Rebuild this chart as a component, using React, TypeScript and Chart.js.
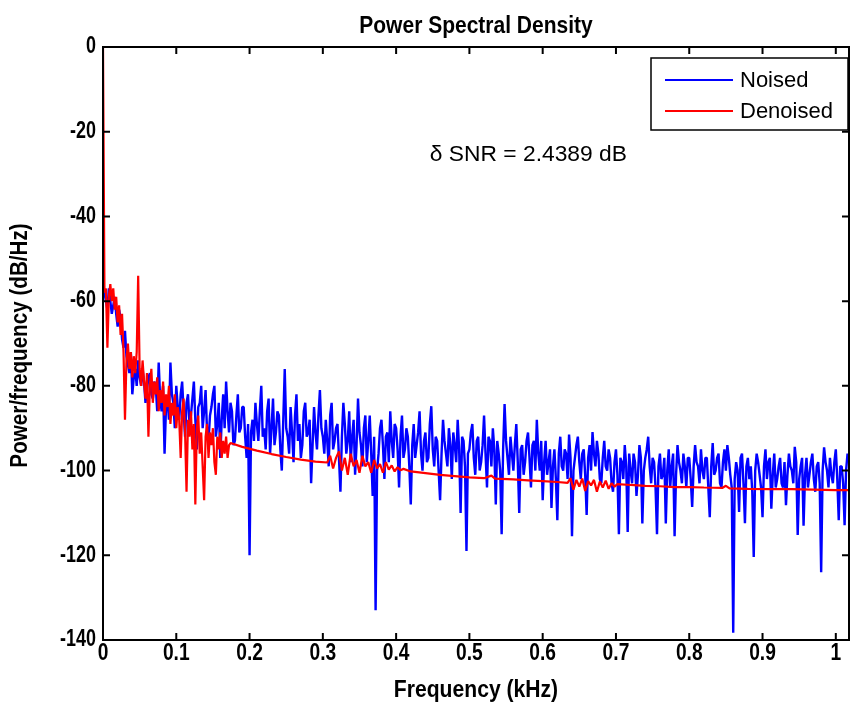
import React, { useEffect, useRef } from "react";
import { Chart, registerables } from "chart.js";

Chart.register(...registerables);

const TITLE = "Power Spectral Density";
const X_LABEL = "Frequency (kHz)";
const Y_LABEL = "Power/frequency (dB/Hz)";
const ANNOTATION = "\u03B4 SNR = 2.4389 dB";
const ANNOTATION_AT = { x: 0.446, y: -25.5 };
const SERIES_NAMES = ["Noised", "Denoised"];
const SERIES_COLORS = ["#0000ff", "#ff0000"];

const X_TICKS = [0, 0.1, 0.2, 0.3, 0.4, 0.5, 0.6, 0.7, 0.8, 0.9, 1];
const Y_TICKS = [-140, -120, -100, -80, -60, -40, -20, 0];
const X_MAX = 1.018;

// Noised PSD: one value per frequency bin (bin spacing in kHz)
const NOISED_STEP = 0.002;
const NOISED_DB = [
  -57, -58, -60, -62, -57, -60, -63, -61, -59, -63,
  -66, -62, -64, -69, -71, -67, -73, -75, -77, -72,
  -82, -78, -76, -80, -74, -78, -80, -76, -79, -84,
  -81, -78, -77, -82, -83, -79, -80, -86, -74.5, -83,
  -86, -80, -96, -85, -83, -88, -74.5, -82, -84, -90,
  -80, -85, -88, -82, -79, -86, -92, -84, -82, -89,
  -87, -83, -79, -88, -95, -85, -84, -80, -90, -86,
  -81, -91, -93, -87, -85, -82, -80, -92, -89, -84,
  -97, -88, -82, -90, -79, -86, -91, -84, -86, -94,
  -93, -87, -82, -91, -90, -85, -85, -92, -97, -89,
  -120, -91, -88, -93, -84, -89, -93, -86, -80, -92,
  -90, -95, -86, -83, -96, -90, -83, -94, -91, -86,
  -87, -95, -100, -88, -76, -90, -92, -96, -85, -91,
  -98, -87, -82, -93, -89, -97, -94, -86, -84, -92,
  -91, -88, -103, -94, -85, -91, -95, -87, -81, -90,
  -92, -96, -88, -93, -99, -87, -84, -95, -93, -90,
  -89, -97, -105, -92, -84, -89, -96, -93, -86, -98,
  -92, -88, -101, -94, -83, -91, -94, -99, -90, -87,
  -98, -93, -87, -96, -106, -92, -133, -100, -96, -90,
  -88, -94, -102, -92, -91, -98, -86, -93, -97, -89,
  -90, -95, -104, -92, -87, -97, -95, -90, -92, -99,
  -108, -94, -89, -97, -94, -91, -86, -96, -100, -93,
  -91, -98, -97, -89, -84.8, -95, -99, -92, -93, -100,
  -107, -96, -88, -93, -96, -99, -90, -94, -102, -91,
  -94, -98, -88, -95, -110, -92, -93, -99, -119, -96,
  -95, -91, -89, -97, -101, -93, -92, -100, -98, -94,
  -87, -96, -104, -92, -93, -99, -90, -95, -108, -93,
  -96, -100, -115, -95, -84.3, -93, -97, -101, -92, -96,
  -100, -94, -89, -98, -110, -95, -94, -101, -98, -93,
  -91, -97, -104, -94, -93, -100, -88, -96, -100, -93,
  -107, -98, -93, -101, -98, -95, -108.8, -99, -95, -102,
  -111.7, -96, -92, -99, -100, -95, -96, -102, -91.5, -97,
  -115.5, -100, -97, -94, -92, -98, -102, -96, -95, -101,
  -110.5, -97, -94, -100, -90.9, -96, -99, -93, -96, -102,
  -103, -97, -93, -99, -100, -95, -97, -103, -105, -98,
  -95, -101, -115, -97, -98, -102, -94, -99, -114.5, -96,
  -100, -103, -96, -98, -106, -101, -94, -97, -112.5, -100,
  -97, -95, -92, -99, -103, -97, -98, -104, -115, -99,
  -96, -102, -101, -97, -112.5, -100, -95, -104, -99, -96,
  -115.5, -101, -94, -98, -100, -103, -96, -99, -104, -97,
  -97, -102, -108.6, -99, -94, -98, -99, -103, -95, -100,
  -102, -97, -97, -104, -111, -99, -93.5, -101, -100, -97,
  -96, -103, -104, -98, -95, -100, -94, -97, -101, -104,
  -138.3, -102, -98, -100, -109.8, -97, -96, -103, -112.4, -99,
  -97, -102, -99, -105, -120.4, -100, -96, -98, -101, -104,
  -111, -99, -95, -102, -98, -97, -109, -101, -96, -104,
  -102, -99, -97, -103, -104, -98, -108.2, -101, -96, -99,
  -100, -103, -94.4, -98, -115.2, -102, -99, -97, -113, -101,
  -97, -104, -101, -98, -96, -102, -105, -99, -98, -103,
  -124, -100, -94.5, -98, -100, -104, -97, -101, -103, -98,
  -95, -102, -111.7, -99, -99, -103, -112.9, -100, -96, -98,
  -100,
];

// Denoised PSD: frequency (kHz) and level (dB/Hz)
const DENOISED_FREQ = [
  0, 0.002, 0.004, 0.006, 0.008, 0.01, 0.012, 0.014, 0.016, 0.018,
  0.02, 0.022, 0.024, 0.026, 0.028, 0.03, 0.032, 0.034, 0.036, 0.038,
  0.04, 0.042, 0.044, 0.046, 0.048, 0.05, 0.052, 0.054, 0.056, 0.058,
  0.06, 0.062, 0.064, 0.066, 0.068, 0.07, 0.072, 0.074, 0.076, 0.078,
  0.08, 0.082, 0.084, 0.086, 0.088, 0.09, 0.092, 0.094, 0.096, 0.098,
  0.1, 0.102, 0.104, 0.106, 0.108, 0.11, 0.112, 0.114, 0.116, 0.118,
  0.12, 0.122, 0.124, 0.126, 0.128, 0.13, 0.132, 0.134, 0.136, 0.138,
  0.14, 0.142, 0.144, 0.146, 0.148, 0.15, 0.152, 0.154, 0.156, 0.158,
  0.16, 0.162, 0.164, 0.166, 0.168, 0.17, 0.172, 0.174, 0.19, 0.21,
  0.23, 0.25, 0.27, 0.29, 0.306, 0.31, 0.314, 0.318, 0.322, 0.326,
  0.33, 0.334, 0.338, 0.342, 0.346, 0.35, 0.354, 0.358, 0.362, 0.366,
  0.37, 0.374, 0.378, 0.382, 0.386, 0.39, 0.394, 0.398, 0.402, 0.406,
  0.41, 0.42, 0.44, 0.46, 0.48, 0.5, 0.52, 0.53, 0.535, 0.56,
  0.58, 0.6, 0.62, 0.634, 0.638, 0.642, 0.646, 0.65, 0.654, 0.658,
  0.662, 0.666, 0.67, 0.674, 0.678, 0.682, 0.686, 0.69, 0.694, 0.698,
  0.702, 0.72, 0.74, 0.76, 0.78, 0.8, 0.82, 0.845, 0.85, 0.855,
  0.88, 0.91, 0.94, 0.97, 1.0, 1.02,
];
const DENOISED_DB = [
  0, -58, -57, -71, -59, -56, -60, -57, -62, -59,
  -65, -61, -68, -63, -72, -88, -74, -70, -76, -72,
  -78, -73, -77, -72, -54, -76, -80, -74, -79, -83,
  -77, -92, -80, -76, -84, -79, -82, -78, -86, -81,
  -84, -79, -87, -82, -85, -80, -89, -84, -87, -82,
  -90, -85, -88, -97, -86, -83, -91, -105, -88, -92,
  -86, -95, -89, -108, -90, -87, -96, -91, -99, -107,
  -92, -89, -97, -91, -94, -90, -98, -101, -92, -95,
  -91, -97, -93, -96, -92, -97, -94, -93.5, -94.4, -95.3,
  -96.1, -96.8, -97.4, -97.9, -98.1, -96.5, -99.5, -97, -95.5, -100,
  -97, -101, -96, -99, -97.5, -100.5, -96.5, -99, -98, -100.5,
  -97.5, -99.5, -98.5, -100.5, -98, -99.8, -98.8, -100.2, -99.2, -99.9,
  -99.6, -100.2, -100.6, -101, -101.3, -101.6, -101.8, -101.2, -101.9, -102.1,
  -102.3, -102.5, -102.7, -102.9, -101.8, -104.5, -102.2, -103.8, -101.9, -104.8,
  -102.5, -103.5, -102.2, -105, -102.6, -104, -102.4, -104.3, -103, -103.8,
  -103.2, -103.4, -103.6, -103.7, -103.9, -103.9, -104, -104.1, -103.6, -104.2,
  -104.3, -104.4, -104.4, -104.5, -104.6, -104.6,
];

const FONT = '"Liberation Sans", Arial, Helvetica, sans-serif';

function drawText(
  ctx: CanvasRenderingContext2D,
  text: string,
  x: number,
  y: number,
  o: { size: number; bold?: boolean; sx?: number; align?: CanvasTextAlign; rotate?: number }
) {
  ctx.save();
  ctx.translate(x, y);
  if (o.rotate) ctx.rotate(o.rotate);
  ctx.scale(o.sx ?? 1, 1);
  ctx.font = `${o.bold ? "bold " : ""}${o.size}px ${FONT}`;
  ctx.textAlign = o.align ?? "center";
  ctx.textBaseline = "middle";
  ctx.fillStyle = "#000";
  ctx.fillText(text, 0, 0);
  ctx.restore();
}

const fmtX = (v: number) => String(Math.round(v * 10) / 10);

const framePlugin = {
  id: "matlabFrame",
  afterDatasetsDraw(chart: any) {
    const { ctx, chartArea } = chart;
    const xs = chart.scales.x;
    const ys = chart.scales.y;
    const { left, right, top, bottom } = chartArea;
    ctx.save();
    // axes box
    ctx.strokeStyle = "#000";
    ctx.lineWidth = 2;
    ctx.strokeRect(left, top, right - left, bottom - top);
    // inward tick marks
    const tl = 7;
    ctx.beginPath();
    xs.ticks.forEach((t: any) => {
      const px = xs.getPixelForValue(t.value);
      ctx.moveTo(px, bottom);
      ctx.lineTo(px, bottom - tl);
      ctx.moveTo(px, top);
      ctx.lineTo(px, top + tl);
    });
    ys.ticks.forEach((t: any) => {
      const py = ys.getPixelForValue(t.value);
      ctx.moveTo(left, py);
      ctx.lineTo(left + tl, py);
      ctx.moveTo(right, py);
      ctx.lineTo(right - tl, py);
    });
    ctx.stroke();
    ctx.restore();

    // tick labels
    xs.ticks.forEach((t: any) => {
      drawText(ctx, fmtX(t.value), xs.getPixelForValue(t.value), bottom + 13, {
        size: 24,
        bold: true,
        sx: 0.8,
      });
    });
    ys.ticks.forEach((t: any) => {
      drawText(ctx, String(t.value), left - 7, ys.getPixelForValue(t.value), {
        size: 23,
        bold: true,
        sx: 0.78,
        align: "right",
      });
    });

    // title and axis titles
    drawText(ctx, TITLE, (left + right) / 2, top - 21, { size: 24, bold: true, sx: 0.875 });
    drawText(ctx, X_LABEL, (left + right) / 2, bottom + 50, { size: 24, bold: true, sx: 0.88 });
    drawText(ctx, Y_LABEL, 20, (top + bottom) / 2 + 2, {
      size: 24,
      bold: true,
      sx: 0.86,
      rotate: -Math.PI / 2,
    });

    // annotation
    drawText(
      ctx,
      ANNOTATION,
      xs.getPixelForValue(ANNOTATION_AT.x),
      ys.getPixelForValue(ANNOTATION_AT.y),
      { size: 22.8, align: "left" }
    );

    // legend box
    ctx.save();
    const bw = 197;
    const bh = 72;
    const bx = right - 1 - bw;
    const by = top + 11;
    ctx.fillStyle = "#fff";
    ctx.fillRect(bx, by, bw, bh);
    ctx.lineWidth = 1.5;
    ctx.strokeStyle = "#000";
    ctx.strokeRect(bx, by, bw, bh);
    chart.data.datasets.forEach((ds: any, i: number) => {
      const ly = by + 22 + i * 31;
      ctx.beginPath();
      ctx.strokeStyle = ds.borderColor;
      ctx.lineWidth = 2;
      ctx.moveTo(bx + 14, ly);
      ctx.lineTo(bx + 82, ly);
      ctx.stroke();
      drawText(ctx, ds.label, bx + 89, ly + 1, { size: 22, align: "left" });
    });
    ctx.restore();
  },
};

export default function App() {
  const ref = useRef<HTMLCanvasElement | null>(null);

  useEffect(() => {
    if (!ref.current) return;
    Chart.defaults.font.family = FONT;
    const noised = NOISED_DB.map((y, i) => ({ x: i * NOISED_STEP, y }));
    const denoised = DENOISED_FREQ.map((x, i) => ({ x, y: DENOISED_DB[i] }));
    const chart = new Chart(ref.current, {
      type: "line",
      data: {
        datasets: [
          {
            label: SERIES_NAMES[0],
            data: noised,
            borderColor: SERIES_COLORS[0],
            backgroundColor: SERIES_COLORS[0],
            borderWidth: 2.4,
            borderJoinStyle: "bevel",
            pointRadius: 0,
            tension: 0,
            order: 1,
          },
          {
            label: SERIES_NAMES[1],
            data: denoised,
            borderColor: SERIES_COLORS[1],
            backgroundColor: SERIES_COLORS[1],
            borderWidth: 2.2,
            borderJoinStyle: "bevel",
            pointRadius: 0,
            tension: 0,
            order: 0,
          },
        ],
      },
      options: {
        animation: false,
        responsive: false,
        devicePixelRatio: 1,
        events: [],
        layout: { padding: { left: 0, right: 1, top: 47, bottom: 0 } },
        plugins: {
          legend: { display: false },
          tooltip: { enabled: false },
          title: { display: false, text: TITLE },
        },
        scales: {
          x: {
            type: "linear",
            min: 0,
            max: X_MAX,
            grid: { display: false, drawTicks: false },
            border: { display: false },
            afterBuildTicks: (scale: any) => {
              scale.ticks = X_TICKS.map((value) => ({ value }));
            },
            afterFit: (scale: any) => {
              scale.height = 66;
            },
            ticks: { display: false, autoSkip: false, maxRotation: 0 },
            title: { display: false, text: X_LABEL },
          },
          y: {
            type: "linear",
            min: -140,
            max: 0,
            grid: { display: false, drawTicks: false },
            border: { display: false },
            afterBuildTicks: (scale: any) => {
              scale.ticks = Y_TICKS.map((value) => ({ value }));
            },
            afterFit: (scale: any) => {
              scale.width = 103;
            },
            ticks: { display: false },
            title: { display: false, text: Y_LABEL },
          },
        },
      },
      plugins: [framePlugin],
    });
    return () => chart.destroy();
  }, []);

  return (
    <div style={{ position: "absolute", left: 0, top: 0, width: 850, height: 706, background: "#fff" }}>
      <canvas ref={ref} width={850} height={706} style={{ display: "block" }} />
    </div>
  );
}
